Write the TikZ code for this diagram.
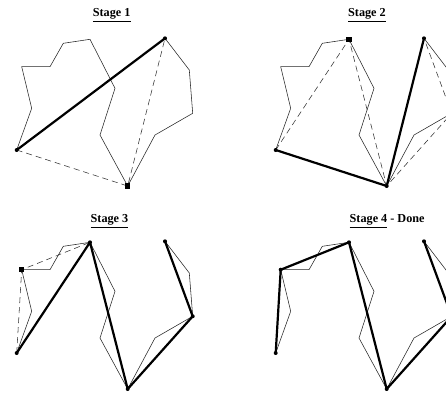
\documentclass[tikz,border=0pt]{standalone}
\usepackage{fontspec}
\setmainfont{Liberation Serif}
\begin{document}
\begin{tikzpicture}[x=1pt,y=-1pt,
  poly/.style={line width=0.55pt, black!85, line join=miter},
  hull/.style={line width=2.2pt, black, line cap=round, line join=round},
  cand/.style={line width=0.55pt, black!80, dash pattern=on 6pt off 4pt},
  pt/.style={circle, fill=black, inner sep=0pt, minimum size=4pt},
  sq/.style={rectangle, fill=black, inner sep=0pt, minimum size=5.5pt},
  ttl/.style={font=\bfseries\fontsize{12.2}{14}\selectfont, inner sep=0pt}]
\clip (0,0) rectangle (446,394);
\fill[white] (0,0) rectangle (446,394);
% polyline vertices for each stage
\foreach \s/\dx/\dy in {1/0/0, 2/259/0, 3/0/203, 4/259/203}{
  \foreach \i/\x/\y in {0/16.7/150, 1/31.7/108.3, 2/21.7/66.7, 3/50/66.7, 4/63.3/43.3,
                        5/90/39.3, 6/115/88.3, 7/100/135, 8/127.7/186, 9/155/135,
                        10/192.7/113.3, 11/189.3/70, 12/165/38.3}{
    \coordinate (s\s p\i) at (\x+\dx,\y+\dy);
  }
  \draw[poly] (s\s p0) -- (s\s p1) -- (s\s p2) -- (s\s p3) -- (s\s p4) -- (s\s p5) -- (s\s p6)
     -- (s\s p7) -- (s\s p8) -- (s\s p9) -- (s\s p10) -- (s\s p11) -- (s\s p12);
}
% titles
\node[ttl] (t1) at (111.7,15) {\underline{Stage 1}};
\node[ttl] (t2) at (367,15) {\underline{Stage 2}};
\node[ttl] (t3) at (109.5,221) {\underline{Stage 3}};
\node[ttl, anchor=west] (t4) at (349.5,221) {\underline{Stage 4} - Done};
% Stage 1
\draw[cand] (s1p0) -- (s1p8) -- (s1p12);
\draw[hull] (s1p0) -- (s1p12);
\node[pt] (m10) at (s1p0) {};
\node[pt] (m112) at (s1p12) {};
\node[sq] (m18) at (s1p8) {};
% Stage 2
\draw[cand] (s2p0) -- (s2p5) -- (s2p8) -- (s2p10) -- (s2p12);
\draw[hull] (s2p0) -- (s2p8) -- (s2p12);
\node[pt] (m20) at (s2p0) {};
\node[pt] (m28) at (s2p8) {};
\node[pt] (m212) at (s2p12) {};
\node[sq] (m25) at (s2p5) {};
% Stage 3
\draw[cand] (s3p0) -- (s3p2) -- (s3p5);
\draw[hull] (s3p0) -- (s3p5) -- (s3p8) -- (s3p10) -- (s3p12);
\node[pt] (m30) at (s3p0) {};
\node[pt] (m35) at (s3p5) {};
\node[pt] (m38) at (s3p8) {};
\node[pt] (m310) at (s3p10) {};
\node[pt] (m312) at (s3p12) {};
\node[sq] (m32) at (s3p2) {};
% Stage 4
\draw[hull] (s4p0) -- (s4p2) -- (s4p5) -- (s4p8) -- (s4p10) -- (s4p12);
\node[pt] (m40) at (s4p0) {};
\node[pt] (m42) at (s4p2) {};
\node[pt] (m45) at (s4p5) {};
\node[pt] (m48) at (s4p8) {};
\node[pt] (m410) at (s4p10) {};
\node[pt] (m412) at (s4p12) {};
\end{tikzpicture}
\end{document}
